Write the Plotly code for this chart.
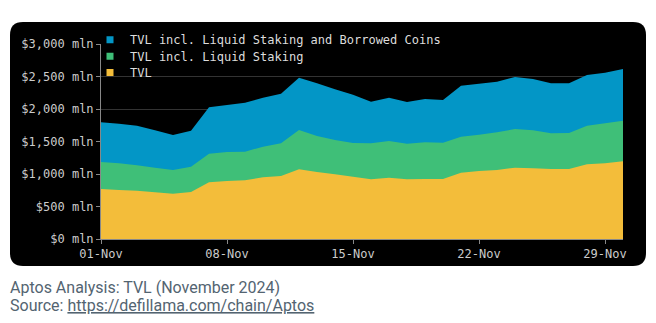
import plotly.graph_objects as go
import pandas as pd

dates = pd.date_range("2024-11-01", "2024-11-30", freq="D")
tvl_borrowed = [1795, 1774, 1744, 1673, 1600, 1667, 2026, 2062, 2097, 2174, 2236, 2482, 2395, 2305, 2220,
                2113, 2174, 2108, 2154, 2138, 2359, 2390, 2421, 2492, 2462, 2395, 2395, 2523, 2559, 2615]
tvl_ls = [1185, 1164, 1133, 1097, 1062, 1113, 1313, 1338, 1344, 1421, 1472, 1677, 1585, 1523, 1477,
          1472, 1508, 1467, 1487, 1482, 1574, 1605, 1641, 1692, 1672, 1626, 1631, 1744, 1779, 1821]
tvl = [769, 754, 744, 719, 697, 723, 872, 892, 903, 949, 969, 1072, 1031, 995, 959,
       918, 944, 918, 923, 923, 1021, 1046, 1062, 1097, 1087, 1077, 1077, 1149, 1164, 1195]

names = ["TVL incl. Liquid Staking and Borrowed Coins", "TVL incl. Liquid Staking", "TVL"]
colors = ["#0396c6", "#3fbf78", "#f3bd3a"]
series = [tvl_borrowed, tvl_ls, tvl]

W, H = 656, 323
L, R, T, B = 101, 33, 44, 84
pw, ph = W - L - R, H - T - B

def px(x):
    return (x - L) / pw

def py(y):
    return (H - B - y) / ph

mono = "DejaVu Sans Mono"
legend_rows = [39.7, 56.3, 72.5]
legend_ids = ["legend", "legend2", "legend3"]

fig = go.Figure()
for n, c, s in zip(names, colors, series):
    fig.add_trace(go.Scatter(x=dates, y=s, name=n, mode="none", fill="tozeroy",
                             fillcolor=c, line=dict(width=0, color=c), showlegend=False))
# legend entries (square markers)
for n, c, lid in zip(names, colors, legend_ids):
    fig.add_trace(go.Scatter(x=[None], y=[None], name=n, mode="markers",
                             marker=dict(symbol="square", size=7, color=c), legend=lid))

legend_cfg = {}
for lid, yy in zip(legend_ids, legend_rows):
    legend_cfg[lid] = dict(x=px(90), y=py(yy), xanchor="left", yanchor="middle",
                           bgcolor="rgba(0,0,0,0)", borderwidth=0,
                           font=dict(family=mono, size=12, color="#dddddd"))

# rounded black panel
x0, x1, y0, y1, r = 10, 646, 22, 266, 13
path = (f"M {px(x0+r)},{py(y0)} L {px(x1-r)},{py(y0)} Q {px(x1)},{py(y0)} {px(x1)},{py(y0+r)} "
        f"L {px(x1)},{py(y1-r)} Q {px(x1)},{py(y1)} {px(x1-r)},{py(y1)} "
        f"L {px(x0+r)},{py(y1)} Q {px(x0)},{py(y1)} {px(x0)},{py(y1-r)} "
        f"L {px(x0)},{py(y0+r)} Q {px(x0)},{py(y0)} {px(x0+r)},{py(y0)} Z")

fig.update_layout(
    width=W, height=H,
    margin=dict(l=L, r=R, t=T, b=B),
    paper_bgcolor="white", plot_bgcolor="black",
    shapes=[dict(type="path", path=path, xref="paper", yref="paper",
                 fillcolor="black", line=dict(width=0), layer="below")],
    showlegend=True,
    xaxis=dict(range=[dates[0], dates[-1]], tickformat="%d-%b", tick0="2024-11-01",
               dtick=7 * 24 * 3600 * 1000, showgrid=False, showline=True, linecolor="#888888",
               ticks="outside", ticklen=4, tickcolor="#888888",
               tickfont=dict(family=mono, size=12, color="#cccccc"), zeroline=False),
    yaxis=dict(range=[0, 3000], dtick=500, tickprefix="$", ticksuffix=" mln", tickformat=",",
               showgrid=True, gridcolor="#333333", gridwidth=1, showline=True, linecolor="#888888",
               ticks="outside", ticklen=4, tickcolor="#888888",
               tickfont=dict(family=mono, size=12, color="#cccccc"), zeroline=False),
    annotations=[
        dict(text="Aptos Analysis: TVL (November 2024)", xref="paper", yref="paper",
             x=px(8), y=py(287), xanchor="left", yanchor="middle", showarrow=False,
             font=dict(family="Roboto", size=16, color="#536471")),
        dict(text='Source: <span style="text-decoration:underline">https://defillama.com/chain/Aptos</span>',
             xref="paper", yref="paper", x=px(8), y=py(305), xanchor="left", yanchor="middle",
             showarrow=False, font=dict(family="Roboto", size=16, color="#536471")),
    ],
    **legend_cfg,
)

fig.write_html("out.html")
